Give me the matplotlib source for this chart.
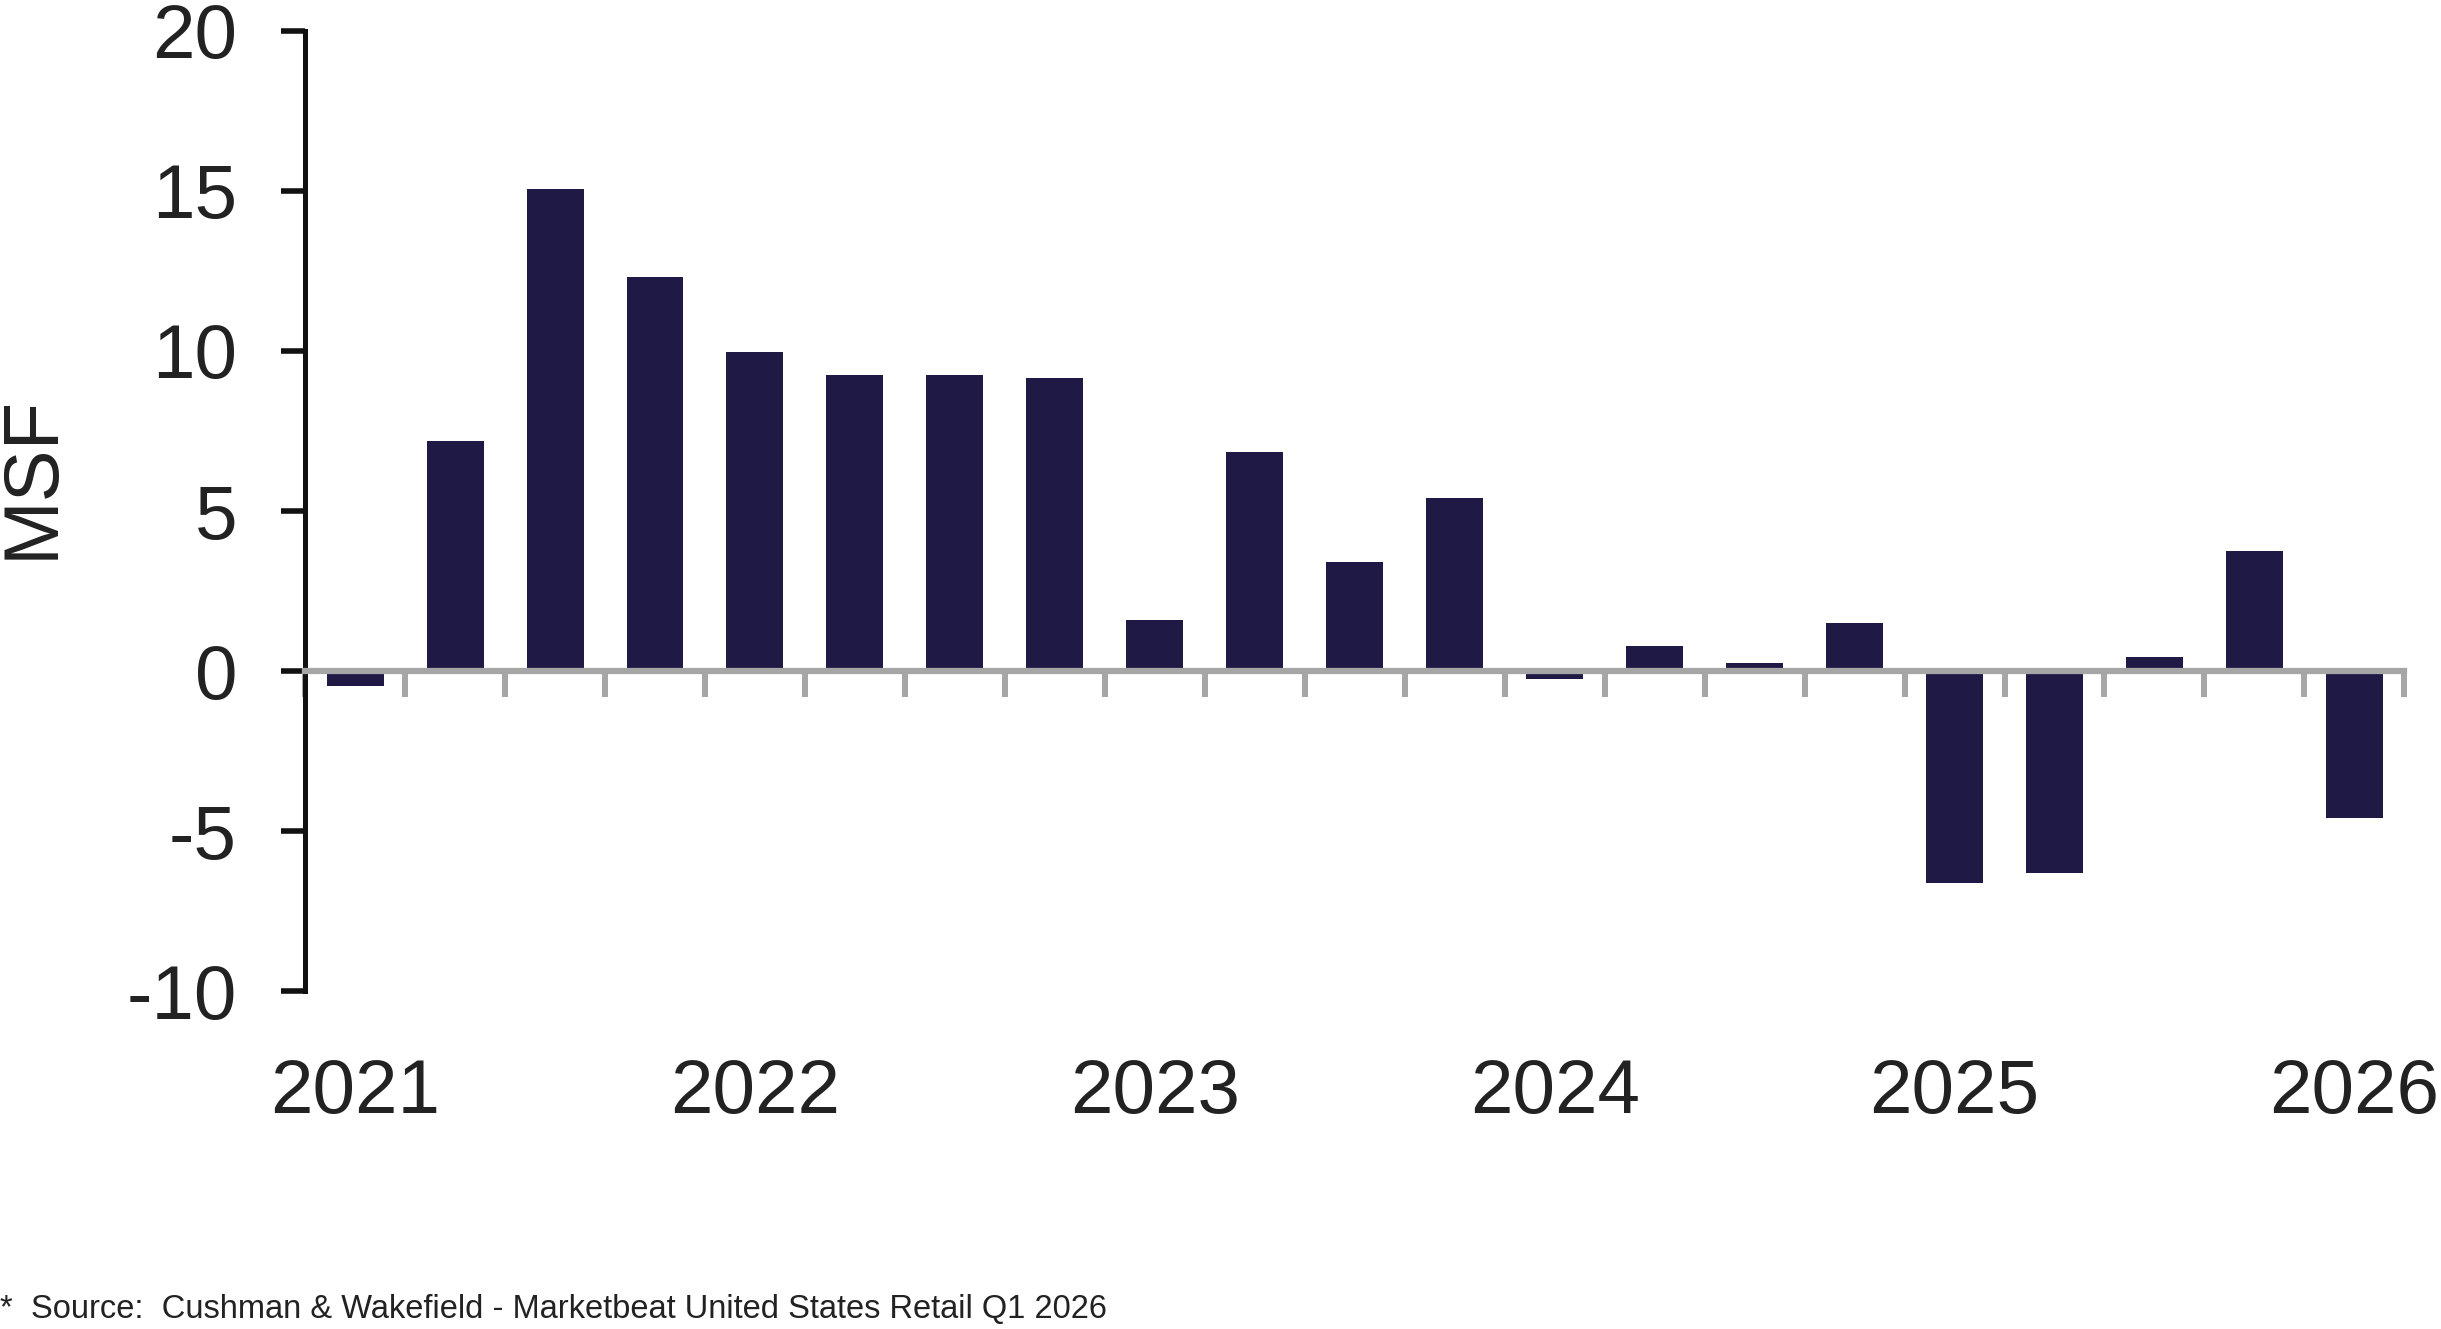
import numpy as np
import matplotlib.pyplot as plt

# net absorption by quarter, MSF
quarters = ["2021 Q1", "2021 Q2", "2021 Q3", "2021 Q4",
            "2022 Q1", "2022 Q2", "2022 Q3", "2022 Q4",
            "2023 Q1", "2023 Q2", "2023 Q3", "2023 Q4",
            "2024 Q1", "2024 Q2", "2024 Q3", "2024 Q4",
            "2025 Q1", "2025 Q2", "2025 Q3", "2025 Q4",
            "2026 Q1"]
values = [-0.45, 7.2, 15.05, 12.3, 9.95, 9.25, 9.25, 9.15,
          1.6, 6.85, 3.4, 5.4, -0.25, 0.78, 0.26, 1.5,
          -6.6, -6.3, 0.45, 3.75, -4.6]
yticks = [-10, -5, 0, 5, 10, 15, 20]

bar_col = '#1e1a45'
gray = '#a6a6a6'
txt = '#222222'

plt.rcParams['font.family'] = ['Liberation Sans', 'DejaVu Sans']

fig = plt.figure(figsize=(24.41, 13.29), dpi=100)
ax = fig.add_axes([0.125, 0.254, 0.86, 0.723])

x = np.arange(len(values))
ax.bar(x, values, width=0.57, color=bar_col, zorder=1)

ax.set_xlim(-0.5, len(values) - 0.5)
ax.set_ylim(-10, 20)

for s in ['top', 'right']:
    ax.spines[s].set_visible(False)
ax.spines['left'].set_color('#111111')
ax.spines['left'].set_linewidth(3.6)
ax.spines['bottom'].set_position(('data', 0))
ax.spines['bottom'].set_color(gray)
ax.spines['bottom'].set_linewidth(4.5)
ax.spines['bottom'].set_zorder(3)

ax.set_yticks(yticks)
ax.set_yticklabels([str(v) for v in yticks])
ax.tick_params(axis='y', direction='out', length=17, width=4, color='#111111',
               labelsize=55, labelcolor=txt, pad=32)

ax.set_xticks(np.arange(len(values) + 1) - 0.5)
ax.set_xticklabels([])
ax.tick_params(axis='x', direction='out', length=19, width=4.3, color=gray)

# year labels under the first quarter of each year
for i, q in enumerate(quarters):
    if q.endswith("Q1"):
        ax.text(i, -13.2, q[:4], ha='center', va='center', fontsize=55,
                color=txt, clip_on=False)

fig.text(0.013, 0.641, "MSF", rotation=90, ha='center', va='center',
         fontsize=56, color=txt)

fig.text(0.0, 0.003, "*  Source:  Cushman & Wakefield - Marketbeat United States Retail Q1 2026",
         ha='left', va='bottom', fontsize=23.5, color=txt)

fig.savefig("out.png", dpi=100, facecolor='white')
